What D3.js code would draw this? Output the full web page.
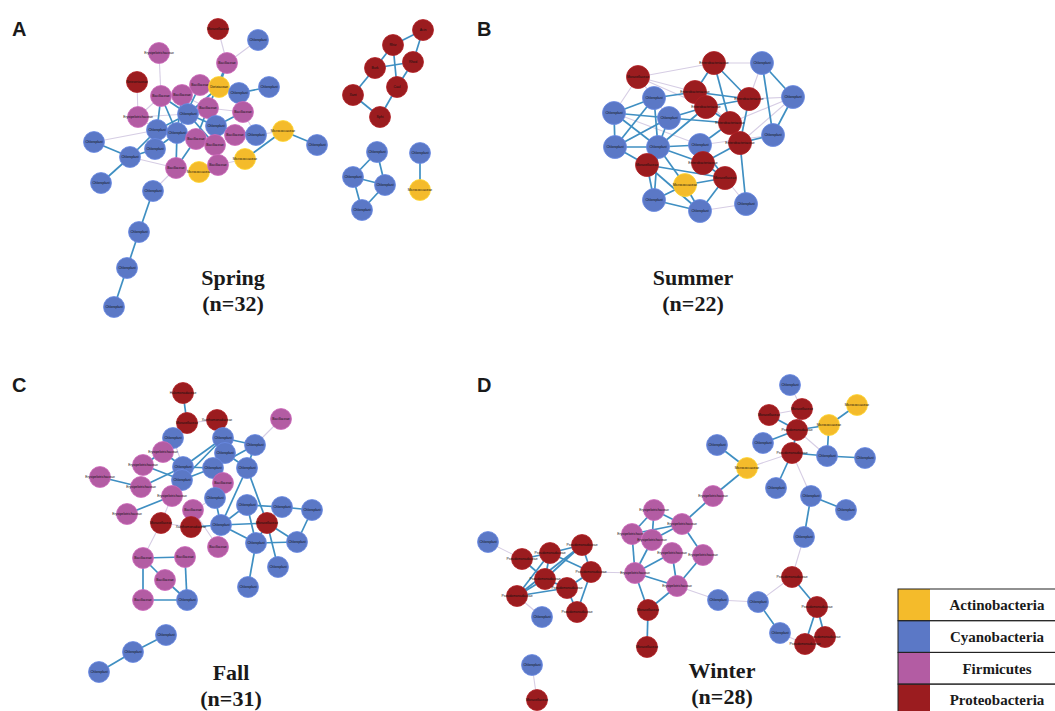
<!DOCTYPE html>
<html>
<head>
<meta charset="utf-8">
<script src="https://cdn.jsdelivr.net/npm/d3@7"></script>
<style>
  html, body { margin: 0; padding: 0; background: #ffffff; }
  svg { display: block; }
</style>
</head>
<body>
<svg id="chart" width="1055" height="711"></svg>
<script>
// Phyla and their fill colours
const phyla = ["Actinobacteria", "Cyanobacteria", "Firmicutes", "Proteobacteria"];
const phylumCodes = ["A", "C", "F", "R"];
const phylumColors = ["#f4bb2b", "#5b78c6", "#b35ca3", "#9b1c1f"];

// Panel titles
const panelLetters = ["A", "B", "C", "D"];
const seasons = ["Spring", "Summer", "Fall", "Winter"];
const sampleSizes = [32, 22, 31, 28];

// Default family label for each phylum, per season
const springLabels = { C: "Chloroplast", F: "Bacillaceae", R: "Neisseriaceae", A: "Micrococcaceae" };
const summerLabels = { C: "Chloroplast", F: "Bacillaceae", R: "Enterobacteriaceae", A: "Micrococcaceae" };
const fallLabels   = { C: "Chloroplast", F: "Bacillaceae", R: "Moraxellaceae", A: "Micrococcaceae" };
const winterLabels = { C: "Chloroplast", F: "Erysipelotrichaceae", R: "Pseudomonadaceae", A: "Micrococcaceae" };

// Network layouts: [phylum, x, y, optional label] in layout units of each panel
const springNodes = [
  ["R",218,29,"Moraxellaceae"],["C",258,40],["F",159,53,"Erysipelotrichaceae"],["F",227,63],
  ["R",137,82],["F",200,85],["A",219,87,"Dietziaceae"],["C",239,93],["C",269,87],
  ["F",161,96],["F",182,95],["F",208,108],["C",188,114],["F",243,112],
  ["F",138,117,"Erysipelotrichaceae"],["C",157,130],["C",177,133],["C",216,126],["F",235,135],
  ["C",256,135],["A",283,131],["C",317,145],["C",94,142],["F",196,139],["F",215,145],
  ["C",155,149],["C",130,157],["A",245,159],["F",176,168],["A",199,172],["F",218,165],
  ["C",101,183],["C",153,191],["C",139,232],["C",127,268],["C",114,307],
  ["R",423,30,"Acin"],["R",393,45,"Rhiz"],["R",413,62,"Rhod"],["R",375,68,"Burk"],
  ["R",397,87,"Caul"],["R",353,95,"Xant"],["R",380,117,"Sphi"],
  ["C",377,152],["C",353,177],["C",385,185],["C",362,210],["C",420,153],["A",420,190]
];
const springStrong = [
  [3,6],[3,11],[6,7],[7,8],[9,12],[9,16],[10,16],[11,23],[11,12],[12,15],[12,17],[17,24],
  [16,25],[16,28],[15,26],[22,26],[26,31],[25,26],[20,21],[20,27],[13,17],[18,17],[32,33],
  [33,34],[34,35],[23,28],[5,16],[11,17],[9,15],[6,12],[10,12],[17,19],[16,23],[12,24],
  [37,36],[36,38],[37,40],[39,38],[37,39],[38,40],[40,42],[41,42],[41,39],
  [43,44],[43,45],[44,45],[44,46],[45,46],[47,48]
];
const springWeak = [
  [0,3],[1,3],[2,9],[4,14],[14,9],[14,15],[28,32],[19,20],[7,13],[5,10],[24,30],[29,30],
  [19,13],[18,19],[10,11],[15,25],[23,24],[11,13],[5,6],[14,12],[26,28],[29,28],[30,27],[22,15]
];

const summerNodes = [
  ["R",168,77,"Moraxellaceae"],["R",244,63],["C",292,63],["R",225,92],["C",184,98],
  ["R",236,107],["R",279,99],["C",323,97],["C",144,113],["C",199,118],["R",260,123],
  ["C",303,135],["C",145,147],["C",188,147],["C",230,145],["R",270,143],["R",233,163],
  ["R",177,165,"Moraxellaceae"],["R",255,178,"Moraxellaceae"],["A",215,185],["C",184,200],
  ["C",230,211],["C",276,204]
];
const summerStrong = [
  [1,3],[1,6],[1,10],[2,11],[2,7],[7,11],[4,8],[4,3],[4,13],[4,12],[8,12],[8,9],[8,13],
  [9,12],[9,13],[9,10],[3,6],[5,6],[5,10],[5,13],[10,14],[10,15],[6,15],[12,13],[12,17],
  [13,14],[13,16],[13,19],[13,20],[14,18],[15,22],[15,16],[16,18],[17,20],[17,21],[19,20],
  [19,21],[19,18],[20,21],[18,21],[11,15],[17,18],[9,5],[14,16]
];
const summerWeak = [
  [0,1],[0,4],[0,8],[0,9],[0,3],[1,2],[2,6],[7,6],[21,22],[22,18],[11,14],[7,15],[0,5],
  [8,14],[12,9],[3,10],[20,19],[7,10]
];

const fallNodes = [
  ["R",183,23,"Halomonadaceae"],["R",187,53],["R",217,50,"Xanthomonadaceae"],["F",281,49],
  ["C",173,68],["C",223,68],["C",225,83],["C",255,75],["F",163,82,"Erysipelotrichaceae"],
  ["F",143,95,"Erysipelotrichaceae"],["C",183,97],["C",213,98],["C",247,98],
  ["F",100,107,"Erysipelotrichaceae"],["F",141,117,"Erysipelotrichaceae"],["C",182,110],
  ["F",223,113],["F",172,126,"Erysipelotrichaceae"],["C",215,128],["C",247,135],["C",282,137],
  ["C",312,140],["F",127,144,"Erysipelotrichaceae"],["F",193,140],["R",161,153],
  ["R",191,157,"Xanthomonadaceae"],["C",221,155],["R",267,153],["F",218,177],["C",256,173],
  ["C",297,172],["F",143,188],["F",185,187],["F",165,210],["C",278,197],["C",248,217],
  ["F",143,230],["C",187,230],["C",166,265],["C",133,282],["C",99,302]
];
const fallStrong = [
  [0,1],[8,9],[8,10],[9,15],[13,14],[10,5],[15,11],[15,17],[11,7],[5,7],[6,12],[7,12],
  [12,26],[12,27],[18,26],[11,18],[19,26],[19,20],[20,21],[21,30],[27,30],[27,29],[27,34],
  [26,27],[26,29],[29,30],[29,35],[19,29],[17,22],[25,26],[31,32],[31,36],[36,37],[32,37],
  [31,33],[33,37],[38,39],[39,40],[10,11],[15,5],[14,10],[16,18]
];
const fallWeak = [
  [3,7],[1,4],[2,5],[24,31],[16,11],[28,26],[23,25],[24,25],[1,2],[4,10],[23,18],[28,23],
  [24,17],[6,11]
];

const winterNodes = [
  ["C",320,15],["A",387,35],["R",299,45,"Moraxellaceae"],["R",332,39,"Moraxellaceae"],
  ["A",359,55],["R",327,60],["C",247,75],["C",293,73],["R",322,83],["C",357,86],["C",395,88],
  ["A",277,98],["C",306,118],["C",341,126],["F",243,126],["C",376,140],["F",184,140],
  ["F",212,154],["F",162,164],["F",182,170],["C",334,167],["C",18,172],["R",112,175],
  ["F",202,183],["F",233,185],["R",52,189],["R",80,183],["R",121,202],["F",165,203],
  ["R",75,209],["R",97,218],["R",322,207],["R",47,226],["F",207,216],["C",248,230],
  ["C",288,232],["R",347,237],["R",107,242],["R",178,240,"Moraxellaceae"],["C",72,247],
  ["C",310,263],["R",355,267],["R",335,274],["R",177,277,"Moraxellaceae"],["C",62,295],
  ["R",67,330,"Moraxellaceae"]
];
const winterStrong = [
  [2,5],[3,5],[1,4],[4,9],[5,7],[5,8],[8,9],[9,10],[8,12],[6,11],[11,14],[13,15],[13,20],
  [31,36],[36,41],[36,42],[41,42],[35,40],[14,17],[16,17],[16,19],[17,18],[17,19],[17,24],
  [18,28],[19,28],[23,28],[24,33],[28,33],[23,33],[28,38],[33,38],[38,43],[25,26],[25,29],
  [26,22],[26,27],[26,29],[22,27],[22,29],[29,30],[30,27],[32,29],[32,26],[32,30],[37,27],
  [37,30],[22,32],[16,18],[4,5]
];
const winterWeak = [
  [0,3],[8,11],[8,13],[20,31],[31,35],[35,34],[34,33],[27,28],[21,25],[39,32],[44,45],
  [40,42],[8,3],[2,3],[5,9]
];

// Panel descriptions built from the arrays above
const panels = [
  { nodes: springNodes, strong: springStrong, weak: springWeak, labels: springLabels, r: 10.5,
    ox: 0, oy: 0 },
  { nodes: summerNodes, strong: summerStrong, weak: summerWeak, labels: summerLabels, r: 11.5,
    ox: 470, oy: 0 },
  { nodes: fallNodes, strong: fallStrong, weak: fallWeak, labels: fallLabels, r: 10.5,
    ox: 0, oy: 370 },
  { nodes: winterNodes, strong: winterStrong, weak: winterWeak, labels: winterLabels, r: 10.5,
    ox: 470, oy: 370 }
];
// Caption placement within each panel (layout units)
const captionX = [233, 223, 231, 252];
const captionY = [285, 285, 310, 308];

const svg = d3.select("#chart");
const color = d3.scaleOrdinal().domain(phylumCodes).range(phylumColors);

panels.forEach((p, k) => {
  const x = d3.scaleLinear().domain([0, 470]).range([p.ox, p.ox + 470]);
  const y = d3.scaleLinear().domain([0, 370]).range([p.oy, p.oy + 370]);
  const g = svg.append("g").attr("class", "panel-" + panelLetters[k]);
  const nodes = p.nodes.map(n => ({ g: n[0], x: n[1], y: n[2], label: n[3] || p.labels[n[0]] }));

  // weak (non-significant) associations
  g.append("g").selectAll("line").data(p.weak).join("line")
    .attr("x1", d => x(nodes[d[0]].x)).attr("y1", d => y(nodes[d[0]].y))
    .attr("x2", d => x(nodes[d[1]].x)).attr("y2", d => y(nodes[d[1]].y))
    .attr("stroke", "#d6cde4").attr("stroke-width", 1.1);

  // strong associations
  g.append("g").selectAll("line").data(p.strong).join("line")
    .attr("x1", d => x(nodes[d[0]].x)).attr("y1", d => y(nodes[d[0]].y))
    .attr("x2", d => x(nodes[d[1]].x)).attr("y2", d => y(nodes[d[1]].y))
    .attr("stroke", "#3f8fc2").attr("stroke-width", 1.7);

  // taxa
  const node = g.append("g").selectAll("g").data(nodes).join("g")
    .attr("transform", d => `translate(${x(d.x)},${y(d.y)})`);
  node.append("circle")
    .attr("r", p.r)
    .attr("fill", d => color(d.g))
    .attr("stroke", d => d3.color(color(d.g)).brighter(0.4))
    .attr("stroke-width", 0.8);
  node.append("text")
    .attr("text-anchor", "middle")
    .attr("dy", "0.35em")
    .attr("font-family", "Liberation Sans, Arial, sans-serif")
    .attr("font-size", 3.4)
    .attr("fill", "#111")
    .text(d => d.label);

  // panel letter
  svg.append("text")
    .attr("x", p.ox + (k % 2 ? 7 : 12)).attr("y", p.oy + (k < 2 ? 36 : 22))
    .attr("font-family", "Liberation Sans, Arial, sans-serif")
    .attr("font-weight", "bold").attr("font-size", 20).attr("fill", "#1a1a1a")
    .text(panelLetters[k]);

  // season caption
  const cap = svg.append("text")
    .attr("text-anchor", "middle")
    .attr("font-family", "Liberation Serif, Times New Roman, serif")
    .attr("font-weight", "bold").attr("font-size", 22).attr("fill", "#1a1a1a");
  cap.append("tspan").attr("x", x(captionX[k])).attr("y", y(captionY[k])).text(seasons[k]);
  cap.append("tspan").attr("x", x(captionX[k])).attr("y", y(captionY[k] + 26))
    .text(`(n=${sampleSizes[k]})`);
});

// Phylum legend
const legend = svg.append("g").attr("class", "legend");
const ly = d3.scaleBand().domain(phyla).range([589, 589 + 4 * 31.7]);
legend.selectAll("rect.sw").data(phyla).join("rect").attr("class", "sw")
  .attr("x", 898).attr("y", d => ly(d)).attr("width", 32).attr("height", ly.bandwidth())
  .attr("fill", (d, i) => phylumColors[i]);
legend.selectAll("rect.row").data(phyla).join("rect").attr("class", "row")
  .attr("x", 898).attr("y", d => ly(d)).attr("width", 170).attr("height", ly.bandwidth())
  .attr("fill", "none").attr("stroke", "#222").attr("stroke-width", 1);
legend.selectAll("text").data(phyla).join("text")
  .attr("x", 997).attr("y", d => ly(d) + ly.bandwidth() / 2)
  .attr("dy", "0.35em").attr("text-anchor", "middle")
  .attr("font-family", "Liberation Serif, Times New Roman, serif")
  .attr("font-weight", "bold").attr("font-size", 15).attr("fill", "#1a1a1a")
  .text(d => d);
</script>
</body>
</html>
